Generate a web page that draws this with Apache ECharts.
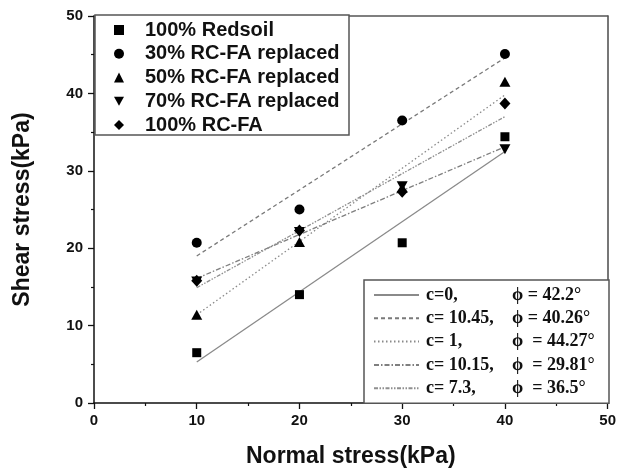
<!DOCTYPE html>
<html>
<head>
<meta charset="utf-8">
<script src="https://cdn.jsdelivr.net/npm/echarts@6/dist/echarts.min.js"></script>
<style>html,body{margin:0;padding:0;background:#fff;}#c{width:619px;height:473px;}</style>
</head>
<body>
<div id="c"></div>
<script>
// ---- data ----
const normalStress = [10, 20, 30, 40];
const redsoil = [6.5, 14.0, 20.7, 34.4];
const rc30 = [20.7, 25.0, 36.5, 45.1];
const rc50 = [11.4, 20.8, 27.8, 41.5];
const rc70 = [15.7, 22.1, 28.0, 32.8];
const rc100 = [15.8, 22.3, 27.3, 38.7];
const scatterNames = ['100% Redsoil', '30% RC-FA replaced', '50% RC-FA replaced', '70% RC-FA replaced', '100% RC-FA'];

// fitted lines: end points read at x = 10 and x = 40
const fitX = [10, 40];
const fitC0 = [5.3, 32.5];
const fitC1045 = [19.0, 44.6];
const fitC1 = [11.4, 39.8];
const fitC1015 = [16.1, 33.1];
const fitC73 = [14.9, 37.0];
const fitLabelC = ['c=0,', 'c= 10.45,', 'c= 1,', 'c= 10.15,', 'c= 7.3,'];
const fitLabelPhi = ['\u03D5 = 42.2\u00B0', '\u03D5 = 40.26\u00B0', '\u03D5  = 44.27\u00B0', '\u03D5  = 29.81\u00B0', '\u03D5  = 36.5\u00B0'];

const xTicks = [0, 10, 20, 30, 40, 50];
const yTicks = [0, 10, 20, 30, 40, 50];

const pairs = (xs, ys) => xs.map((x, i) => [x, ys[i]]);
const fitNames = fitLabelC.map((c, i) => c + ' ' + fitLabelPhi[i]);

const chart = echarts.init(document.getElementById('c'), null, {renderer: 'canvas'});

const downTri = 'path://M0,0 L10,0 L5,9 Z';
const scatterDefs = [
  {data: redsoil, symbol: 'rect', icon: 'rect', size: [9, 9], rotate: 0},
  {data: rc30, symbol: 'circle', icon: 'circle', size: 10, rotate: 0},
  {data: rc50, symbol: 'triangle', icon: 'triangle', size: [11, 10], rotate: 0},
  {data: rc70, symbol: 'triangle', icon: downTri, size: [11, 10], rotate: 180},
  {data: rc100, symbol: 'diamond', icon: 'diamond', size: [11, 12], rotate: 0}
];
const fitDefs = [
  {data: fitC0, type: 'solid', color: '#8a8a8a'},
  {data: fitC1045, type: [4, 3], color: '#7a7a7a'},
  {data: fitC1, type: [1.5, 2.5], color: '#8a8a8a'},
  {data: fitC1015, type: [5, 2, 1.5, 2], color: '#7f7f7f'},
  {data: fitC73, type: [4, 1.5, 1.5, 1.5, 1.5, 1.5], color: '#8f8f8f'}
];

const series = [];
fitDefs.forEach((f, i) => {
  series.push({
    name: fitNames[i], type: 'line', xAxisIndex: 0, yAxisIndex: 0,
    data: pairs(fitX, f.data), symbol: 'none', z: 2,
    lineStyle: {color: f.color, width: 1.3, type: f.type},
    itemStyle: {color: f.color}
  });
});
scatterDefs.forEach((s, i) => {
  series.push({
    name: scatterNames[i], type: 'scatter', xAxisIndex: 0, yAxisIndex: 0,
    data: pairs(normalStress, s.data), symbol: s.symbol, symbolSize: s.size,
    symbolRotate: s.rotate, z: 5,
    itemStyle: {color: '#000', opacity: 1}
  });
});

const axisFont = {fontFamily: 'Arial, Liberation Sans', fontWeight: 'bold', fontSize: 15, color: '#111'};
const nameFont = {fontFamily: 'Arial, Liberation Sans', fontWeight: 'bold', fontSize: 23, color: '#111'};

chart.setOption({
  animation: false,
  backgroundColor: '#fff',
  grid: {left: 94, right: 11, top: 16, bottom: 70, containLabel: false},
  xAxis: [{
    type: 'value', min: 0, max: 50, interval: 10, position: 'bottom',
    axisLine: {show: true, onZero: false, lineStyle: {color: '#111', width: 1.5}},
    axisTick: {show: true, length: 6, lineStyle: {color: '#111', width: 1.3}},
    minorTick: {show: true, splitNumber: 2, length: 3, lineStyle: {color: '#111', width: 1.2}},
    splitLine: {show: false},
    axisLabel: Object.assign({margin: 10, formatter: v => xTicks.includes(v) ? String(v) : ''}, axisFont),
    name: 'Normal stress(kPa)', nameLocation: 'middle', nameGap: 42, nameTextStyle: nameFont
  }, {
    type: 'value', min: 0, max: 50, position: 'top',
    axisLine: {show: true, onZero: false, lineStyle: {color: '#555', width: 1.6}},
    axisTick: {show: false}, axisLabel: {show: false}, splitLine: {show: false}
  }],
  yAxis: [{
    type: 'value', min: 0, max: 50, interval: 10, position: 'left',
    axisLine: {show: true, onZero: false, lineStyle: {color: '#111', width: 1.5}},
    axisTick: {show: true, length: 6, lineStyle: {color: '#111', width: 1.3}},
    minorTick: {show: true, splitNumber: 2, length: 3, lineStyle: {color: '#111', width: 1.2}},
    splitLine: {show: false},
    axisLabel: Object.assign({margin: 11, formatter: v => yTicks.includes(v) ? String(v) : ''}, axisFont),
    name: 'Shear stress(kPa)', nameLocation: 'middle', nameGap: 60, nameRotate: 90, nameTextStyle: nameFont
  }, {
    type: 'value', min: 0, max: 50, position: 'right',
    axisLine: {show: true, onZero: false, lineStyle: {color: '#555', width: 1.6}},
    axisTick: {show: false}, axisLabel: {show: false}, splitLine: {show: false}
  }],
  legend: [{
    data: scatterNames.map((n, i) => ({name: n, icon: scatterDefs[i].icon})),
    orient: 'vertical', left: 95, top: 15,
    padding: [5, 4, 0, 19], itemGap: 3.75, itemWidth: 10, itemHeight: 10,
    borderColor: '#555', borderWidth: 1.5, backgroundColor: '#fff',
    selectedMode: false,
    itemStyle: {color: '#000'},
    textStyle: {fontFamily: 'Arial, Liberation Sans', fontWeight: 'bold', fontSize: 20, color: '#111', width: 200, padding: [0, 0, 0, 16], lineHeight: 20}
  }, {
    data: fitNames, orient: 'vertical', left: 364, top: 280,
    padding: [6, 5, 6, 9], itemGap: 5.3, itemWidth: 45, itemHeight: 10,
    borderColor: '#555', borderWidth: 1.5, backgroundColor: '#fff',
    selectedMode: false,
    itemStyle: {opacity: 0},
    formatter: name => {
      const i = fitNames.indexOf(name);
      return '{a|' + fitLabelC[i] + '}{b|' + fitLabelPhi[i] + '}';
    },
    textStyle: {
      fontFamily: 'Times New Roman, Liberation Serif', fontWeight: 'bold', fontSize: 18, color: '#111', padding: [0, 0, 0, 2], lineHeight: 18,
      rich: {
        a: {fontFamily: 'Times New Roman, Liberation Serif', fontWeight: 'bold', fontSize: 18, color: '#111', width: 86, lineHeight: 18},
        b: {fontFamily: 'Times New Roman, Liberation Serif', fontWeight: 'bold', fontSize: 18, color: '#111', width: 92, lineHeight: 18}
      }
    }
  }],
  series: series
});
</script>
</body>
</html>
